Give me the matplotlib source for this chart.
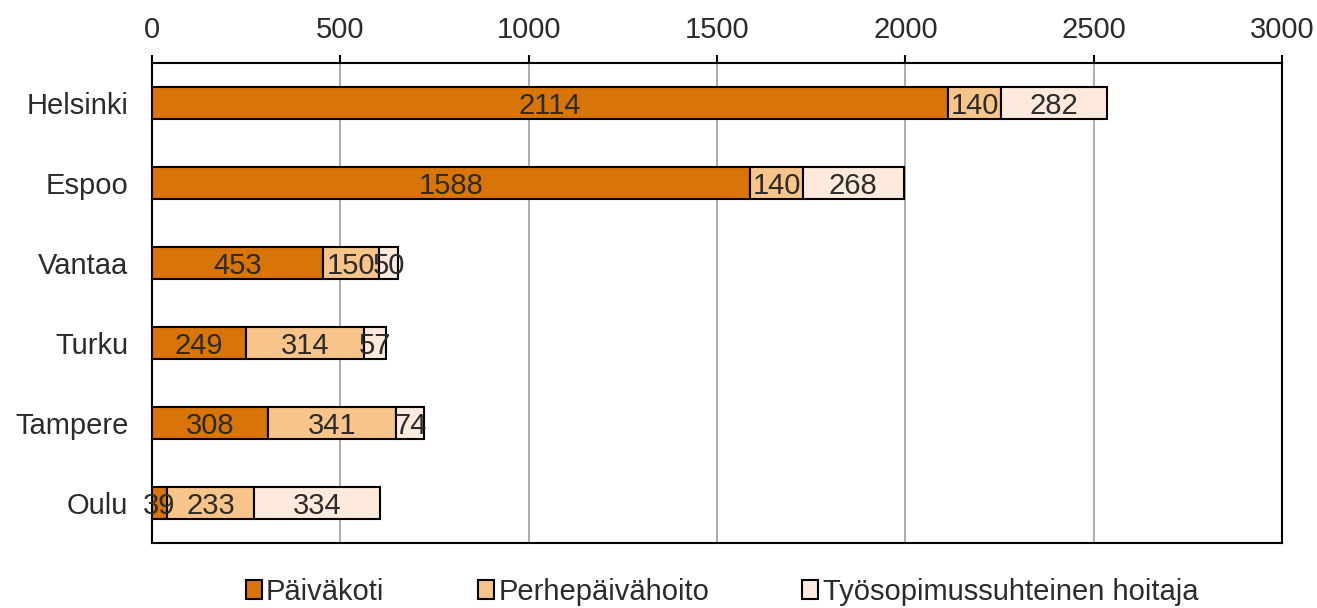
import numpy as np
import matplotlib.pyplot as plt

plt.rcParams['font.family'] = ['Liberation Sans', 'DejaVu Sans']

cities = ['Helsinki', 'Espoo', 'Vantaa', 'Turku', 'Tampere', 'Oulu']
paivakoti = [2114, 1588, 453, 249, 308, 39]
perhepaivahoito = [140, 140, 150, 314, 341, 233]
tyosopimus = [282, 268, 50, 57, 74, 334]

series = [
    ('Päiväkoti', paivakoti, '#D97508'),
    ('Perhepäivähoito', perhepaivahoito, '#F8C48A'),
    ('Työsopimussuhteinen hoitaja', tyosopimus, '#FDEADC'),
]

txt = '#2b2b2b'
fs = 21

fig = plt.figure(figsize=(13.17, 6.08), dpi=100)
ax = fig.add_axes([152 / 1317, 1 - 543 / 608, (1282 - 152) / 1317, 480 / 608])

y = np.arange(len(cities))
left = np.zeros(len(cities))
for name, vals, col in series:
    vals = np.array(vals)
    ax.barh(y, vals, left=left, height=0.4, color=col,
            edgecolor='black', linewidth=1.5, label=name, zorder=3)
    for yi, l, v in zip(y, left, vals):
        ax.text(l + v / 2, yi, str(v), ha='center', va='center_baseline',
                fontsize=fs, color=txt, zorder=4)
    left += vals

ax.set_xlim(0, 3000)
ax.set_ylim(len(cities) - 0.5, -0.5)
ax.set_xticks(np.arange(0, 3001, 500))
ax.xaxis.tick_top()
ax.tick_params(axis='x', length=6, width=1.5, labelsize=fs, labelcolor=txt, pad=8)
ax.tick_params(axis='y', length=0, labelsize=fs, labelcolor=txt, pad=17)
ax.set_yticks(y)
ax.set_yticklabels(cities)
ax.grid(axis='x', color='#A6A6A6', linewidth=1.3, zorder=0)
for s in ax.spines.values():
    s.set_linewidth(1.5)
    s.set_color('black')

fig.legend(loc='center', bbox_to_anchor=(722 / 1317, 1 - 592 / 608), ncol=3, frameon=False,
           fontsize=fs, handlelength=0.55, handleheight=0.6, handletextpad=0.15,
           columnspacing=3.2, labelcolor=txt)

fig.savefig('out.png', dpi=100)
